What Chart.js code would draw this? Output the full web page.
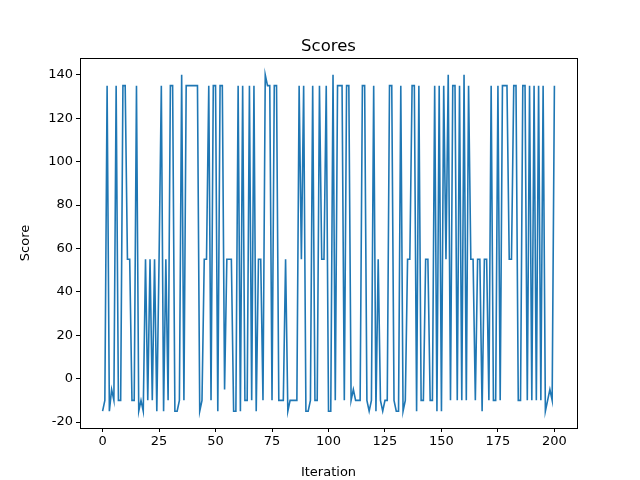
<!DOCTYPE html>
<html><head><meta charset="utf-8">
<script src="https://cdn.jsdelivr.net/npm/chart.js@4"></script>
<style>body{margin:0;background:#fff}</style></head>
<body><canvas id="c" width="640" height="480"></canvas>
<script>
const scores = [-15,-10,135,-15,-5,-10,135,-10,-10,135,135,55,55,-10,-10,135,-15,-10,-15,55,-10,55,-10,55,-15,55,135,-15,55,-10,135,135,-15,-15,-10,140,-10,135,135,135,135,135,135,-15,-10,55,55,135,-10,135,135,-15,135,135,-5,55,55,55,-15,-15,135,-15,135,-10,-10,135,-10,135,-15,55,55,-10,140,135,135,-10,135,135,-10,-10,-10,55,-15,-10,-10,-10,-10,135,55,135,-15,-15,-10,135,-10,-10,135,55,55,135,-15,-15,140,-10,135,135,135,-10,135,135,-10,-5,-10,-10,-10,135,135,-10,-15,-10,135,-15,55,-10,-15,-10,-10,135,135,-10,-15,-15,135,-15,-10,55,55,135,135,-15,135,-10,-10,55,55,-10,-10,135,-15,135,-15,135,55,140,-10,135,135,-10,135,-10,140,-10,135,55,55,-10,55,55,-15,55,55,-10,135,-10,-10,135,-10,135,135,135,55,55,135,135,-10,-10,135,135,-10,135,-10,135,-10,135,-10,135,-15,-10,-5,-10,135];
const iterations = scores.map((_, i) => i);
const xTicks = [0,25,50,75,100,125,150,175,200];
const yTicks = [-20,0,20,40,60,80,100,120,140];
const F = "'DejaVu Sans', sans-serif";
const frame = {id:'frame', afterDraw(ch){const a=ch.chartArea,x=ch.ctx;x.save();x.strokeStyle='#000';x.lineWidth=1;x.strokeRect(a.left+0.5,a.top+0.5,a.right-a.left,a.bottom-a.top);
x.fillStyle='#000';x.font='16.5px '+F;x.textAlign='center';x.textBaseline='alphabetic';x.fillText('Scores',(a.left+a.right)/2,a.top-7);x.restore();}};
new Chart(document.getElementById('c'), {
  type:'line',
  data:{datasets:[{data:iterations.map((x,i)=>({x, y:scores[i]})), borderColor:'#1f77b4', borderWidth:1.6, pointRadius:0, tension:0}]},
  options:{responsive:false, animation:false, layout:{padding:{top:58,right:63,left:18,bottom:0}},
    plugins:{legend:{display:false}, tooltip:{enabled:false}},
    scales:{
      x:{type:'linear', min:-10, max:210, afterFit(s){s.height=52;},
        afterBuildTicks(s){s.ticks=xTicks.map(v=>({value:v}));},
        grid:{drawOnChartArea:false, tickLength:4, color:'#000'}, border:{display:false},
        ticks:{color:'#000', font:{family:F,size:13}, padding:2, maxRotation:0},
        title:{display:true, text:'Iteration', color:'#000', font:{family:F,size:13}, padding:{top:2,bottom:0}}},
      y:{min:-22.75, max:147.75, afterFit(s){s.width=62;},
        afterBuildTicks(s){s.ticks=yTicks.map(v=>({value:v}));},
        grid:{drawOnChartArea:false, tickLength:4, color:'#000'}, border:{display:false},
        ticks:{color:'#000', font:{family:F,size:13}, padding:3},
        title:{display:true, text:'Score', color:'#000', font:{family:F,size:13}, padding:{top:0,bottom:0}}}
    }},
  plugins:[frame]
});
</script></body></html>
